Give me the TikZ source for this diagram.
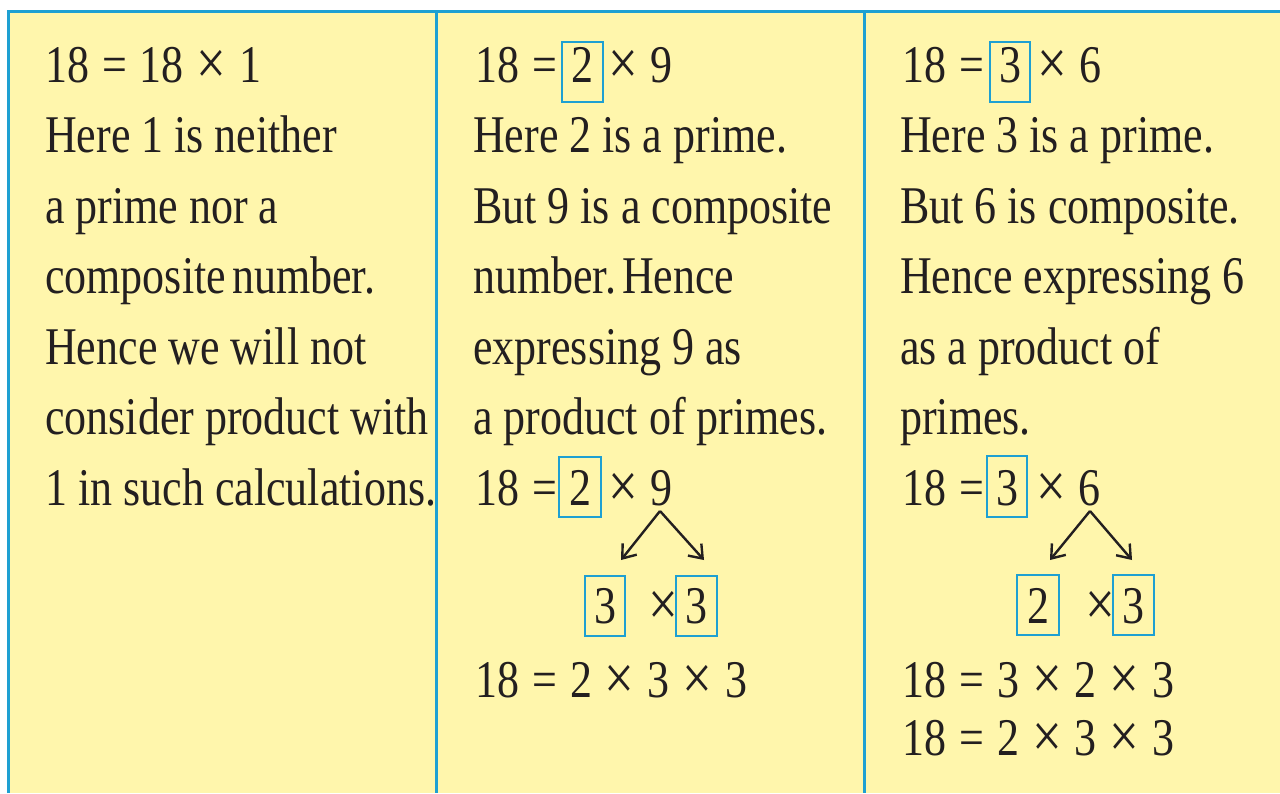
\documentclass[tikz,border=0pt]{standalone}
\usepackage{fontspec}
\usepackage{graphicx}
\setmainfont{Liberation Serif}[FakeStretch=0.83]
\usetikzlibrary{arrows.meta}
\definecolor{pap}{RGB}{255,246,172}
\definecolor{brd}{RGB}{30,160,210}
\definecolor{ink}{RGB}{35,31,32}
\newcommand\gp{\hspace{13pt}}
\newcommand\tms{\raisebox{-2.5pt}{\scalebox{1.2}{×}}}
\tikzset{
  txt/.style={anchor=base west, inner sep=0pt, text=ink, font=\fontsize{53}{64}\selectfont},
  bx/.style={draw=brd, line width=2.6pt, inner sep=0pt, anchor=base, text=ink, font=\fontsize{53}{64}\selectfont},
  rule/.style={draw=brd, line width=3pt},
  arr/.style={draw=ink, line width=2.4pt, -{Straight Barb[length=12pt,width=18pt,line width=2.4pt]}}
}
\begin{document}
\begin{tikzpicture}[x=1pt,y=-1pt]
\useasboundingbox (0,0) rectangle (1280,793);
\fill[white] (0,0) rectangle (1280,793);
\fill[pap] (8.5,11) rectangle (1280,793);
\draw[rule] (8.5,793) -- (8.5,11) -- (1280,11);
\draw[rule] (436.5,11) -- (436.5,793);
\draw[rule] (864,11) -- (864,793);

% column 1
\node[txt] (a1) at (45,82) {18\gp=\gp18\gp\tms\gp1};
\node[txt] (a2) at (45,152.5) {Here 1 is neither};
\node[txt] (a3) at (45,223) {a prime nor a};
\node[txt] (a4) at (45,293.5) {composite\hspace{6pt}number.};
\node[txt] (a5) at (45,364) {Hence we will not};
\node[txt] (a6) at (45,434.5) {consider product with};
\node[txt] (a7) at (45,505) {1 in such calculations.};

% column 2
\node[txt] (b1a) at (475,82) {18\gp=};
\node[bx, text height=40pt, text depth=20pt, minimum width=41pt] (b1b) at (582.5,82) {2};
\node[txt] (b1c) at (608,82) {\tms\gp9};
\node[txt] (b2) at (473,152.5) {Here 2 is a prime.};
\node[txt] (b3) at (473,223) {But 9 is a composite};
\node[txt] (b4) at (473,293.5) {number.\hspace{6pt}Hence};
\node[txt] (b5) at (473,364) {expressing 9 as};
\node[txt] (b6) at (473,434.5) {a product of primes.};
\node[txt] (b7a) at (475,505) {18\gp=};
\node[bx, text height=48pt, text depth=12pt, minimum width=42pt] (b7b) at (580,505) {2};
\node[txt] (b7c) at (608,505) {\tms\gp9};
\coordinate (b7top) at (660,511);
\coordinate (b8l) at (621,560);
\coordinate (b8r) at (704,560);
\draw[arr] (b7top) -- (b8l);
\draw[arr] (b7top) -- (b8r);
\node[bx, text height=47pt, text depth=13pt, minimum width=40pt] (b8a) at (605,623) {3};
\node[txt] (b8x) at (648,623) {\tms};
\node[bx, text height=47pt, text depth=13pt, minimum width=41pt] (b8b) at (696.5,623) {3};
\node[txt] (b9) at (475,697) {18\gp=\gp2\gp\tms\gp3\gp\tms\gp3};

% column 3
\node[txt] (c1a) at (902,82) {18\gp=};
\node[bx, text height=40pt, text depth=20pt, minimum width=40pt] (c1b) at (1010,82) {3};
\node[txt] (c1c) at (1037,82) {\tms\gp6};
\node[txt] (c2) at (900,152.5) {Here 3 is a prime.};
\node[txt] (c3) at (900,223) {But 6 is composite.};
\node[txt] (c4) at (900,293.5) {Hence expressing 6};
\node[txt] (c5) at (900,364) {as a product of};
\node[txt] (c6) at (900,434.5) {primes.};
\node[txt] (c7a) at (902,505) {18\gp=};
\node[bx, text height=49pt, text depth=12pt, minimum width=40pt] (c7b) at (1007,505) {3};
\node[txt] (c7c) at (1036,505) {\tms\gp6};
\coordinate (c7top) at (1090,511);
\coordinate (c8l) at (1050,560);
\coordinate (c8r) at (1132,560);
\draw[arr] (c7top) -- (c8l);
\draw[arr] (c7top) -- (c8r);
\node[bx, text height=48pt, text depth=12pt, minimum width=42pt] (c8a) at (1038,623) {2};
\node[txt] (c8x) at (1085,623) {\tms};
\node[bx, text height=48pt, text depth=12pt, minimum width=41pt] (c8b) at (1133.5,623) {3};
\node[txt] (c9) at (902,697) {18\gp=\gp3\gp\tms\gp2\gp\tms\gp3};
\node[txt] (c10) at (902,755) {18\gp=\gp2\gp\tms\gp3\gp\tms\gp3};
\end{tikzpicture}
\end{document}
